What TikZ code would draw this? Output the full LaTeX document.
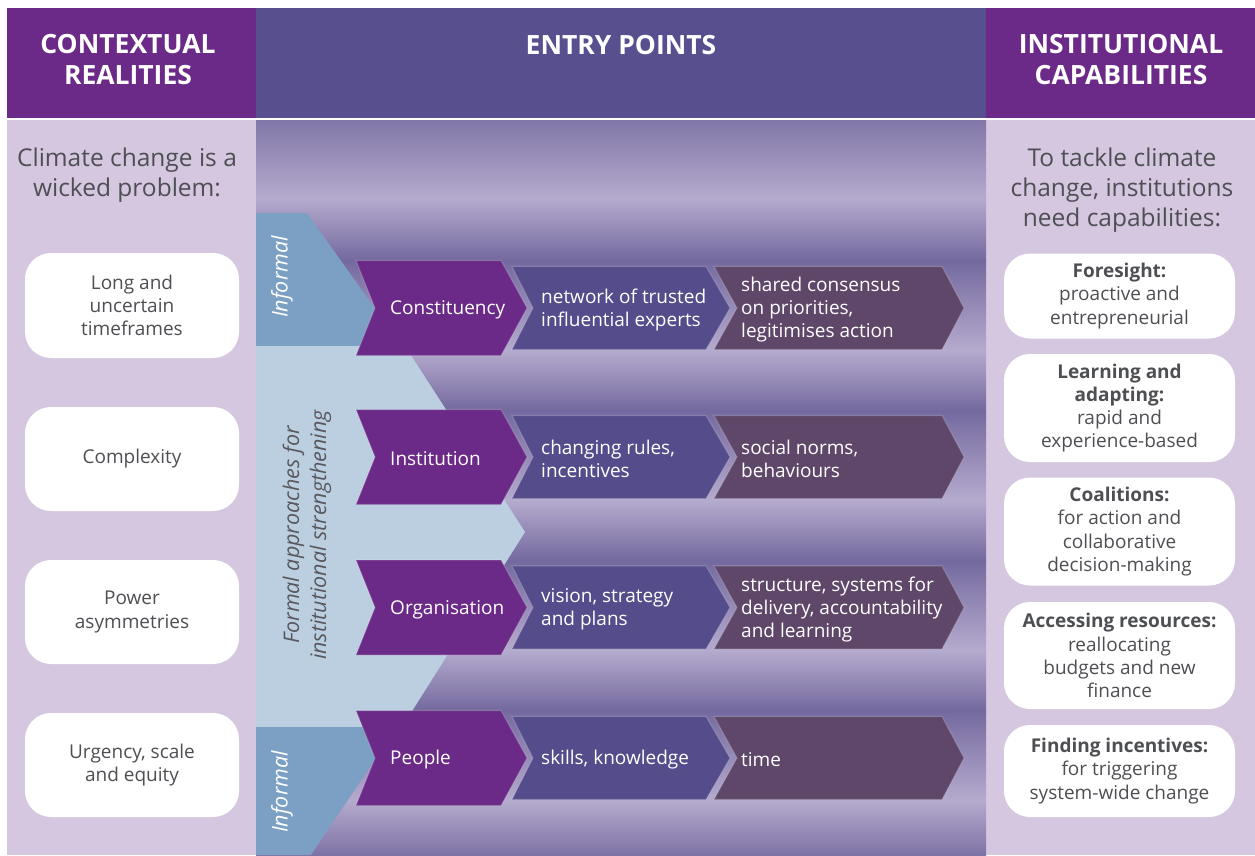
\documentclass[tikz,border=0pt]{standalone}
\usepackage{fontspec}
\setmainfont{Open Sans}
\definecolor{hdrpurple}{RGB}{107,42,135}
\definecolor{hdrmid}{RGB}{87,79,142}
\definecolor{sidebg}{RGB}{214,199,225}
\definecolor{bgdark}{RGB}{116,105,158}
\definecolor{bglight}{RGB}{181,171,206}
\definecolor{informal}{RGB}{123,160,196}
\definecolor{formal}{RGB}{188,207,225}
\definecolor{chevA}{RGB}{107,42,135}
\definecolor{chevB}{RGB}{84,76,139}
\definecolor{chevC}{RGB}{94,71,104}
\definecolor{txtgray}{RGB}{77,79,83}
\definecolor{formaltxt}{RGB}{88,88,94}
\newcommand{\mychev}[7]{%
  \path[fill=#1, draw=white, draw opacity=0.18, line width=1.2pt, line join=miter]
    ({#2},{#4-#5}) -- ({#3},{#4-#5}) -- ({#3+#7},{#4}) -- ({#3},{#4+#5})
    -- ({#2},{#4+#5}) -- ({#2+#6},{#4}) -- cycle;}
\newcommand{\bgband}[4]{\shade[top color=#3, bottom color=#4] (256,#1) rectangle (986,#2);}
\begin{document}
\begin{tikzpicture}[x=1pt,y=-1pt,
  hdr/.style={font=\bfseries\fontsize{26.5}{31}\selectfont, text=white, align=center},
  intro/.style={font=\fontsize{24.5}{30}\selectfont, text=txtgray, align=center},
  whitebox/.style={fill=white, rounded corners=26pt, font=\fontsize{19}{23.2}\selectfont,
     text=txtgray, align=center, inner sep=0pt},
  ctxbox/.style={whitebox, minimum width=214pt},
  capbox/.style={whitebox, minimum width=231pt},
  chevtxt/.style={font=\fontsize{19}{23}\selectfont, text=white, align=left, anchor=west,
     inner sep=0pt, yshift=-1.8pt},
  sidetxt/.style={font=\itshape\fontsize{21.5}{27}\selectfont, align=center, rotate=90, inner sep=0pt}
]
\useasboundingbox (0,0) rectangle (1255,855);
\fill[white] (0,0) rectangle (1255,855);
% headers
\fill[hdrpurple] (7,8) rectangle (256,118);
\fill[hdrmid] (256,8) rectangle (986,118);
\fill[hdrpurple] (986,8) rectangle (1255,118);
% side columns
\fill[sidebg] (7,120) rectangle (256,855);
\fill[sidebg] (986,120) rectangle (1255,855);
% middle gradient bands
\bgband{120}{198.5}{bgdark!80!bglight}{bglight}
\bgband{198}{260.5}{bglight}{bgdark}
\bgband{260}{350.5}{bgdark}{bglight}
\bgband{350}{410.5}{bglight}{bgdark}
\bgband{410}{500.5}{bgdark}{bglight}
\bgband{500}{560.5}{bglight}{bgdark}
\bgband{560}{650.5}{bgdark}{bglight}
\bgband{650}{710.5}{bglight}{bgdark}
\bgband{710}{800.5}{bgdark}{bglight}
\bgband{800}{855}{bglight}{bgdark!85!bglight}
% blue approach shapes
\fill[informal] (256,213) -- (307,213) -- (376,310) -- (366,346) -- (256,346) -- cycle;
\fill[formal] (256,346) -- (405,346) -- (525,532) -- (402,727) -- (256,727) -- cycle;
\fill[informal] (256,727) -- (370,727) -- (376,758) -- (311,855) -- (256,855) -- cycle;
% chevrons
\foreach \yc in {308,457,607.5,758}{
  \mychev{chevA}{356}{501}{\yc}{47.5}{19}{26}
  \mychev{chevB}{512}{706}{\yc}{41.5}{21}{24}
  \mychev{chevC}{714}{942}{\yc}{41.5}{23}{22}
}
% header texts
\node[hdr] (h1) at (128,60) {CONTEXTUAL\\REALITIES};
\node[hdr] (h2) at (621,45) {ENTRY POINTS};
\node[hdr] (h3) at (1121,60) {INSTITUTIONAL\\CAPABILITIES};
% intro texts
\node[intro] (i1) at (127,175) {Climate change is a\\wicked problem:};
\node[intro] (i2) at (1122,190) {To tackle climate\\change, institutions\\need capabilities:};
% context boxes
\node[ctxbox, minimum height=105pt] (c1) at (132,305.5) {Long and\\uncertain\\timeframes};
\node[ctxbox, minimum height=104pt] (c2) at (132,459) {Complexity};
\node[ctxbox, minimum height=104pt] (c3) at (132,612) {Power\\asymmetries};
\node[ctxbox, minimum height=104pt] (c4) at (132,765) {Urgency, scale\\and equity};
% capability boxes
\node[capbox, minimum height=85pt] (k1) at (1119.5,296) {\textbf{Foresight:}\\proactive and\\entrepreneurial};
\node[capbox, minimum height=108pt] (k2) at (1119.5,408) {\textbf{Learning and}\\\textbf{adapting:}\\rapid and\\experience-based};
\node[capbox, minimum height=108pt] (k3) at (1119.5,531.5) {\textbf{Coalitions:}\\for action and\\collaborative\\decision-making};
\node[capbox, minimum height=107pt] (k4) at (1119.5,655.5) {\textbf{Accessing resources:}\\reallocating\\budgets and new\\finance};
\node[capbox, minimum height=92pt] (k5) at (1119.5,771) {\textbf{Finding incentives:}\\for triggering\\system-wide change};
% side labels
\node[sidetxt, text=white] (inf1) at (282,277) {Informal};
\node[sidetxt, text=formaltxt] (form) at (307,535) {Formal approaches for\\institutional strengthening};
\node[sidetxt, text=white] (inf2) at (282,792) {Informal};
% chevron texts
\node[chevtxt] (a1) at (390,308) {Constituency};
\node[chevtxt] (a2) at (390,457) {Institution};
\node[chevtxt] (a3) at (390,607.5) {Organisation};
\node[chevtxt] (a4) at (390,758) {People};
\node[chevtxt] (b1) at (541,308) {network of trusted\\influential experts};
\node[chevtxt] (b2) at (541,457) {changing rules,\\incentives};
\node[chevtxt] (b3) at (541,607.5) {vision, strategy\\and plans};
\node[chevtxt] (b4) at (541,758) {skills, knowledge};
\node[chevtxt] (d1) at (741,308) {shared consensus\\on priorities,\\legitimises action};
\node[chevtxt] (d2) at (741,457) {social norms,\\behaviours};
\node[chevtxt] (d3) at (741,607.5) {structure, systems for\\delivery, accountability\\and learning};
\node[chevtxt] (d4) at (741,758) {time};
\end{tikzpicture}
\end{document}
